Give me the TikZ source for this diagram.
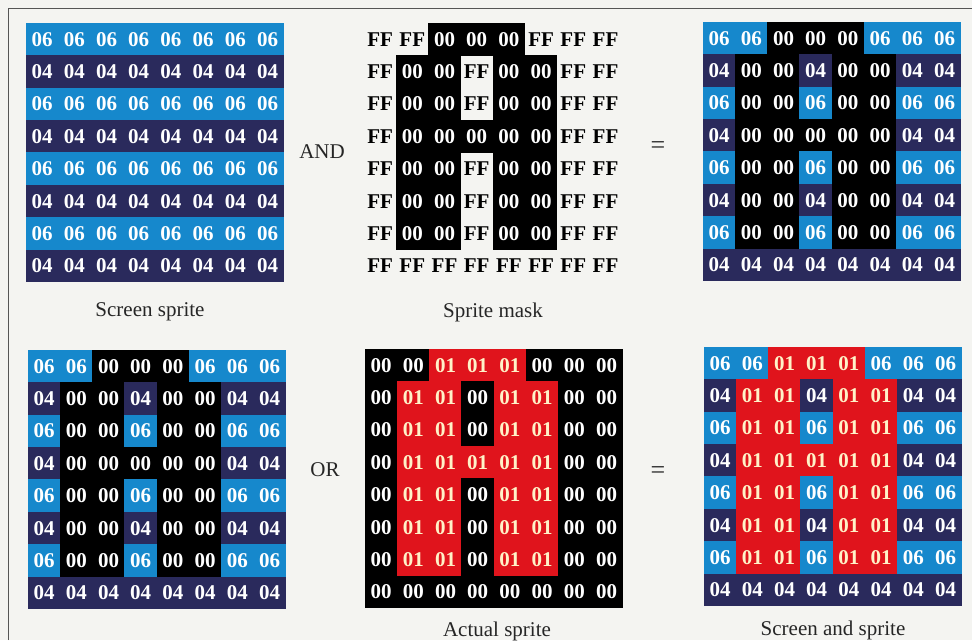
\documentclass[tikz,border=0pt]{standalone}
\usepackage{fontspec}
\setmainfont{Liberation Serif}
\usetikzlibrary{positioning}

\definecolor{paper}{HTML}{F4F4F1}
\definecolor{framegray}{HTML}{555555}
\definecolor{scrblue}{HTML}{1688CC}
\definecolor{scrdark}{HTML}{2A2A5C}
\definecolor{sprred}{HTML}{E0141C}
\definecolor{spryel}{HTML}{FFF2C8}

\tikzset{
  cell/.style={minimum width=32.6pt, minimum height=32.8pt, inner sep=0pt,
    font=\fontsize{21}{21}\selectfont\bfseries},
  caption/.style={font=\fontsize{21}{21}\selectfont, text=black!85},
  operator/.style={font=\fontsize{26}{26}\selectfont, text=black!85},
}

% the sprite shape, 1 = sprite pixel
\def\shape{{0,0,1,1,1,0,0,0},{0,1,1,0,1,1,0,0},{0,1,1,0,1,1,0,0},{0,1,1,1,1,1,0,0},
           {0,1,1,0,1,1,0,0},{0,1,1,0,1,1,0,0},{0,1,1,0,1,1,0,0},{0,0,0,0,0,0,0,0}}

% #1 = mode (0 screen, 1 mask, 2 and, 3 sprite, 4 or), #2 = pixel, #3 = row
\newcommand{\pickcell}[3]{%
  \ifodd#3\relax \def\cellfill{scrblue}\def\celltext{white}\def\celltxt{06}%
  \else \def\cellfill{scrdark}\def\celltext{white}\def\celltxt{04}\fi
  \ifcase#1\relax
  \or % mask
    \ifnum#2=1 \def\cellfill{black}\def\celltext{white}\def\celltxt{00}%
    \else \def\cellfill{none}\def\celltext{black}\def\celltxt{FF}\fi
  \or % screen AND mask
    \ifnum#2=1 \def\cellfill{black}\def\celltext{white}\def\celltxt{00}\fi
  \or % sprite
    \ifnum#2=1 \def\cellfill{sprred}\def\celltext{spryel}\def\celltxt{01}%
    \else \def\cellfill{black}\def\celltext{white}\def\celltxt{00}\fi
  \or % result OR sprite
    \ifnum#2=1 \def\cellfill{sprred}\def\celltext{spryel}\def\celltxt{01}\fi
  \fi}

% #1 = name, #2 = left, #3 = top, #4 = mode
\newcommand{\spritegrid}[4]{%
  \foreach[count=\ri] \rw in \shape {
    \foreach[count=\ci] \px in \rw {
      \pickcell{#4}{\px}{\ri}
      \node[cell, fill=\cellfill, text=\celltext] (#1-\ri-\ci)
        at ({#2+(\ci-0.5)*32.2}, {#3+(\ri-0.5)*32.4}) {\celltxt};
    }
  }}

\begin{document}
\begin{tikzpicture}[x=1pt, y=-1pt]
    \useasboundingbox (0,0) rectangle (972,640);
    \fill[paper] (0,0) rectangle (972,640);
    \draw[framegray, line width=1pt] (8,640) -- (8,8) -- (972,8);

    % top row
    \spritegrid{screen}{26}{23}{0}
    \spritegrid{mask}{364}{23}{1}
    \spritegrid{anded}{703}{22}{2}
    \node[caption] (screen-label) at (150,312) {Screen sprite};
    \node[caption] (mask-label) at (493,312) {Sprite mask};
    \node[caption] (and-op) at (322,152) {AND};
    \node[operator] (eq-top) at (658,148) {=};

    % bottom row
    \spritegrid{holed}{28}{350}{2}
    \spritegrid{sprite}{365}{349}{3}
    \spritegrid{result}{704}{347}{4}
    \node[caption] (sprite-label) at (497,631) {Actual sprite};
    \node[caption] (result-label) at (833,630) {Screen and sprite};
    \node[caption] (or-op) at (325,470) {OR};
    \node[operator] (eq-bottom) at (658,473) {=};
\end{tikzpicture}
\end{document}
